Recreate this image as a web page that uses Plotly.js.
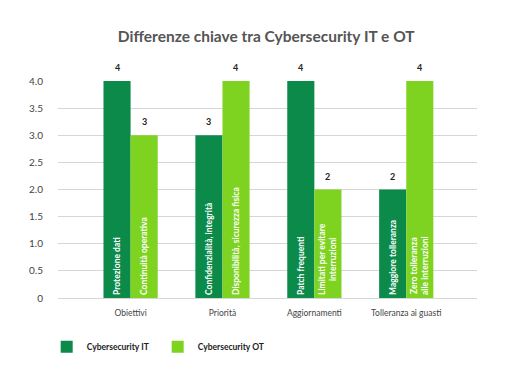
<!DOCTYPE html>
<html>
<head>
<meta charset="utf-8">
<script src="https://cdn.plot.ly/plotly-3.0.1.min.js"></script>
<style>html,body{margin:0;padding:0;background:#fff;}#chart{width:512px;height:381px;}</style>
</head>
<body>
<div id="chart"></div>
<script>
const categories = ["Obiettivi", "Priorità", "Aggiornamenti", "Tolleranza ai guasti"];
const itValues = [4, 3, 4, 2];
const otValues = [3, 4, 2, 4];
const itLabels = ["Protezione dati", "Confidenzialità, integrità", "Patch frequenti", "Maggiore tolleranza"];
const otLabels = ["Continuità operativa", "Disponibilità, sicurezza fisica", "Limitati per evitare<br>interruzioni", "Zero tolleranza<br>alle interruzioni"];
const seriesNames = ["Cybersecurity IT", "Cybersecurity OT"];
const yTickVals = [0, 0.5, 1, 1.5, 2, 2.5, 3, 3.5, 4];
const yTickText = ["0", "0.5", "1.0", "1.5", "2.0", "2.5", "3.0", "3.5", "4.0"];

const colIT = "#0b8a4a";
const colOT = "#7ed321";
const font = "Lato, 'Open Sans', sans-serif";

const barCommon = {
  type: "bar",
  textposition: "inside",
  insidetextanchor: "start",
  textangle: -90,
  insidetextfont: {family: font, size: 8.5, color: "#ffffff", weight: 700},
  hoverinfo: "none",
  cliponaxis: false
};

const traces = [
  Object.assign({}, barCommon, {x: categories, y: itValues, text: itLabels, name: seriesNames[0], marker: {color: colIT}}),
  Object.assign({}, barCommon, {x: categories, y: otValues, text: otLabels, name: seriesNames[1], marker: {color: colOT}})
];

const annotations = [];
categories.forEach((c, i) => {
  annotations.push({x: c, y: itValues[i], text: String(itValues[i]), showarrow: false, xshift: -13.5, yanchor: "bottom", yshift: 6, font: {family: font, size: 9, color: "#222", weight: 700}});
  annotations.push({x: c, y: otValues[i], text: String(otValues[i]), showarrow: false, xshift: 13.5, yanchor: "bottom", yshift: 6, font: {family: font, size: 9, color: "#222", weight: 700}});
});

const layout = {
  width: 512, height: 381,
  margin: {l: 58, r: 35, t: 81, b: 83},
  paper_bgcolor: "#fff", plot_bgcolor: "#fff",
  title: {text: "Differenze chiave tra Cybersecurity IT e OT", x: 0.52, xanchor: "center", y: 0.905, yanchor: "middle", font: {family: font, size: 15.5, color: "#555555", weight: 700}},
  barmode: "group",
  bargap: 0.41,
  bargroupgap: 0,
  xaxis: {type: "category", range: [-0.79, 3.77], showgrid: false, zeroline: false, showline: false, ticks: "", ticklabelstandoff: 8, tickfont: {family: font, size: 8.5, color: "#444"}, fixedrange: true},
  yaxis: {range: [0, 4], tickvals: yTickVals, ticktext: yTickText, showgrid: true, gridcolor: "#d6d6d6", gridwidth: 1, zeroline: true, zerolinecolor: "#d6d6d6", showline: false, ticks: "", ticklabelstandoff: 14, tickfont: {family: font, size: 10, color: "#444"}, fixedrange: true},
  showlegend: true,
  legend: {orientation: "h", x: -0.027, xanchor: "left", y: -0.225, yanchor: "middle", font: {family: font, size: 8.5, color: "#222", weight: 700}, entrywidth: 66, entrywidthmode: "pixels", itemwidth: 30, traceorder: "normal"},
  annotations: annotations
};

Plotly.newPlot("chart", traces, layout, {displayModeBar: false, staticPlot: true});
</script>
</body>
</html>
